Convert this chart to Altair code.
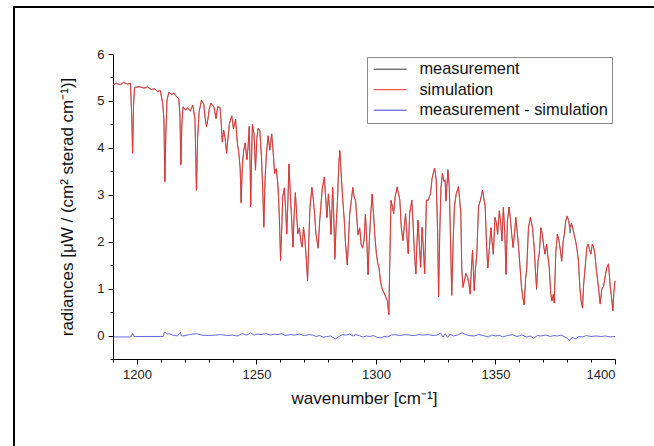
import altair as alt
import pandas as pd

# ---- spectrum vertices (wavenumber, radiance) ----
wn = [1190.0, 1191.5, 1193.0, 1194.5, 1196.0, 1197.3, 1197.9, 1198.2, 1198.6, 1199.0,
      1201.0, 1203.0, 1204.5, 1206.0, 1207.5, 1208.5, 1209.8, 1210.8, 1211.3, 1211.7,
      1212.1, 1212.6, 1213.4, 1214.5, 1215.5, 1216.5, 1217.5, 1218.0, 1218.4, 1218.8,
      1219.3, 1220.3, 1221.3, 1222.3, 1223.4, 1224.3, 1224.9, 1225.4, 1226.0, 1227.0,
      1228.0, 1228.5, 1229.1, 1229.7, 1230.2, 1231.0, 1232.2, 1233.1, 1233.8, 1234.8,
      1235.3, 1235.7, 1236.3, 1236.9, 1237.5, 1238.1, 1238.7, 1239.7, 1240.4, 1241.3,
      1242.0, 1242.6, 1243.2, 1243.6, 1244.1, 1244.7, 1245.3, 1246.0, 1246.5, 1247.0,
      1247.4, 1247.6, 1247.9, 1248.3, 1249.0, 1249.6, 1250.2, 1250.7, 1251.4, 1252.1,
      1252.7, 1253.1, 1253.6, 1254.2, 1254.9, 1255.6, 1256.4, 1257.0, 1257.6, 1258.3,
      1259.0, 1259.6, 1260.1, 1260.6, 1261.0, 1261.7, 1262.2, 1262.7, 1263.2, 1263.6,
      1264.2, 1264.8, 1265.3, 1265.8, 1266.3, 1266.8, 1267.3, 1268.0, 1268.6, 1269.1,
      1269.7, 1270.3, 1270.9, 1271.4, 1271.9, 1272.4, 1273.2, 1273.8, 1274.3, 1274.9,
      1275.8, 1276.4, 1277.0, 1277.6, 1278.4, 1279.0, 1279.5, 1280.1, 1280.8, 1281.2,
      1281.9, 1282.4, 1282.8, 1283.3, 1283.9, 1284.5, 1284.9, 1285.4, 1286.1, 1286.7,
      1287.2, 1287.7, 1288.0, 1288.5, 1289.0, 1289.7, 1290.3, 1290.9, 1291.5, 1292.0,
      1292.5, 1293.2, 1293.8, 1294.4, 1295.0, 1295.6, 1296.2, 1296.7, 1297.2, 1297.8,
      1298.4, 1299.0, 1299.5, 1300.2, 1300.8, 1301.3, 1301.9, 1302.5, 1303.1, 1303.7,
      1304.3, 1304.8, 1305.4, 1305.8, 1306.3, 1306.9, 1307.4, 1308.0, 1308.9, 1309.5,
      1310.0, 1310.6, 1311.3, 1312.0, 1312.4, 1313.0, 1313.5, 1314.1, 1315.0, 1315.6,
      1316.1, 1316.7, 1317.2, 1317.6, 1318.2, 1318.7, 1319.3, 1319.9, 1320.4, 1321.1,
      1321.9, 1322.8, 1323.5, 1324.2, 1324.6, 1325.2, 1325.8, 1326.2, 1326.7, 1327.2,
      1327.8, 1328.4, 1328.9, 1329.3, 1330.1, 1330.7, 1331.2, 1331.7, 1332.3, 1332.8,
      1333.6, 1334.5, 1335.0, 1335.5, 1335.9, 1336.4, 1337.0, 1337.6, 1338.3, 1338.9,
      1339.4, 1339.9, 1340.4, 1340.9, 1341.1, 1341.6, 1342.2, 1342.9, 1343.7, 1344.6,
      1345.2, 1345.7, 1346.3, 1346.8, 1347.5, 1348.1, 1348.6, 1349.1, 1349.8, 1350.4,
      1350.9, 1351.6, 1352.2, 1352.7, 1353.3, 1353.9, 1354.4, 1355.0, 1355.7, 1356.2,
      1356.8, 1357.4, 1358.0, 1358.5, 1359.2, 1359.8, 1360.3, 1360.9, 1361.5, 1362.0,
      1362.6, 1363.1, 1363.8, 1364.6, 1365.5, 1366.2, 1366.7, 1367.2, 1367.8, 1368.3,
      1369.0, 1369.6, 1370.2, 1370.7, 1371.4, 1371.9, 1372.5, 1373.1, 1373.6, 1374.2,
      1374.6, 1375.2, 1375.9, 1376.6, 1377.2, 1377.7, 1378.3, 1378.8, 1379.4, 1380.0,
      1380.6, 1381.2, 1381.8, 1382.3, 1382.9, 1383.5, 1384.1, 1384.7, 1385.3, 1385.8,
      1386.4, 1386.9, 1387.5, 1388.2, 1388.8, 1389.3, 1389.9, 1390.5, 1391.0, 1391.6,
      1392.2, 1392.8, 1393.8, 1394.5, 1395.2, 1396.0, 1396.6, 1397.3, 1398.0, 1398.6,
      1399.1, 1399.5, 1400.0]

simulation = [5.34, 5.37, 5.35, 5.39, 5.36, 5.37, 4.60, 3.88, 4.90, 5.28,
              5.30, 5.27, 5.29, 5.24, 5.26, 5.20, 5.22, 4.95, 4.60, 3.27,
              4.30, 5.02, 5.18, 5.14, 5.17, 5.09, 5.05, 4.70, 3.63, 4.50,
              4.88, 4.80, 4.86, 4.78, 4.91, 4.62, 3.09, 4.20, 4.75, 5.02,
              4.92, 4.65, 4.45, 4.60, 4.82, 4.95, 4.88, 4.62, 4.88, 4.86,
              4.50, 4.12, 4.38, 4.20, 3.88, 4.20, 4.52, 4.68, 4.40, 4.60,
              4.10, 3.90, 3.55, 2.82, 3.60, 3.95, 4.10, 3.74, 4.00, 4.45,
              3.50, 2.74, 3.60, 4.49, 4.30, 3.52, 4.20, 4.41, 4.38, 3.80,
              3.00, 2.30, 3.30, 3.90, 4.25, 3.95, 4.30, 3.90, 3.45, 3.55,
              3.20, 2.50, 1.59, 2.30, 2.95, 3.15, 2.70, 2.16, 2.90, 3.66,
              3.00, 2.40, 1.88, 2.60, 3.05, 2.60, 2.16, 2.30, 2.00, 1.88,
              2.30, 2.02, 1.60, 1.16, 2.00, 2.74, 3.16, 2.90, 2.60, 2.16,
              1.88, 2.40, 2.80, 3.16, 3.38, 2.90, 2.52, 3.02, 2.60, 2.16,
              3.16, 2.50, 1.66, 2.30, 2.88, 3.70, 3.95, 3.50, 2.90, 2.50,
              2.02, 1.70, 1.52, 2.00, 2.59, 2.88, 3.16, 2.95, 2.88, 2.50,
              2.16, 2.30, 1.95, 1.88, 2.02, 2.59, 2.00, 1.31, 2.00, 2.59,
              3.02, 2.60, 2.16, 1.74, 1.55, 1.45, 1.16, 1.02, 0.95, 0.88,
              0.80, 0.74, 0.45, 1.60, 2.88, 2.74, 2.60, 2.95, 3.16, 3.00,
              2.88, 2.30, 2.02, 2.40, 2.59, 2.10, 1.74, 2.59, 2.88, 2.30,
              1.74, 1.31, 2.00, 2.45, 1.90, 1.45, 2.30, 1.80, 1.31, 2.88,
              2.88, 3.02, 3.35, 3.50, 3.56, 3.31, 2.20, 0.82, 2.20, 3.16,
              3.45, 3.30, 3.31, 2.88, 3.52, 3.16, 2.00, 0.85, 2.00, 2.74,
              3.02, 3.16, 2.90, 2.59, 1.40, 1.02, 1.16, 1.31, 1.24, 1.10,
              0.88, 1.40, 1.81, 1.20, 0.95, 1.40, 1.74, 2.74, 2.88, 3.09,
              2.90, 2.74, 1.88, 1.45, 1.90, 2.30, 2.00, 1.74, 2.52, 2.40,
              2.16, 2.66, 2.40, 2.02, 2.74, 2.20, 1.31, 2.45, 2.74, 2.50,
              2.16, 1.88, 2.20, 2.52, 2.16, 1.80, 1.45, 1.02, 0.80, 0.66,
              1.20, 1.45, 2.30, 2.52, 2.30, 1.88, 1.40, 1.02, 1.60, 1.74,
              2.30, 2.16, 1.90, 1.74, 1.95, 1.70, 1.45, 0.90, 0.74, 0.88,
              0.70, 1.74, 2.16, 2.02, 1.80, 1.59, 2.00, 2.16, 2.45, 2.55,
              2.45, 2.30, 2.40, 2.30, 2.16, 2.02, 1.85, 1.59, 1.02, 0.75,
              0.59, 1.10, 1.45, 1.88, 1.95, 1.85, 1.74, 1.95, 1.90, 1.74,
              1.40, 1.16, 0.68, 1.00, 1.05, 1.30, 1.46, 1.53, 1.05, 0.80,
              0.53, 0.90, 1.17]

measurement = [5.35, 5.38, 5.34, 5.40, 5.36, 5.38, 4.55, 3.90, 4.92, 5.29,
               5.31, 5.28, 5.30, 5.25, 5.25, 5.21, 5.22, 4.93, 4.62, 3.30,
               4.28, 5.03, 5.19, 5.13, 5.16, 5.10, 5.04, 4.72, 3.66, 4.48,
               4.87, 4.81, 4.85, 4.79, 4.90, 4.60, 3.12, 4.22, 4.76, 5.01,
               4.93, 4.66, 4.47, 4.61, 4.81, 4.96, 4.87, 4.63, 4.87, 4.85,
               4.52, 4.14, 4.37, 4.22, 3.90, 4.22, 4.51, 4.69, 4.41, 4.61,
               4.12, 3.92, 3.56, 2.85, 3.62, 3.96, 4.11, 3.76, 4.02, 4.46,
               3.52, 2.78, 3.62, 4.50, 4.31, 3.55, 4.22, 4.42, 4.37, 3.82,
               3.02, 2.33, 3.32, 3.91, 4.26, 3.96, 4.29, 3.92, 3.46, 3.56,
               3.21, 2.52, 1.62, 2.31, 2.96, 3.14, 2.71, 2.18, 2.91, 3.65,
               3.01, 2.41, 1.90, 2.61, 3.04, 2.61, 2.18, 2.29, 2.01, 1.90,
               2.31, 2.03, 1.62, 1.18, 2.01, 2.73, 3.15, 2.91, 2.61, 2.18,
               1.86, 2.39, 2.79, 3.15, 3.37, 2.91, 2.51, 3.01, 2.59, 2.15,
               3.14, 2.48, 1.62, 2.28, 2.86, 3.68, 3.93, 3.49, 2.89, 2.49,
               2.01, 1.69, 1.50, 1.99, 2.58, 2.87, 3.15, 2.94, 2.86, 2.49,
               2.14, 2.28, 1.93, 1.86, 2.00, 2.57, 1.98, 1.29, 1.98, 2.57,
               3.00, 2.58, 2.14, 1.72, 1.52, 1.42, 1.13, 1.00, 0.93, 0.86,
               0.79, 0.73, 0.44, 1.60, 2.88, 2.75, 2.60, 2.96, 3.17, 3.01,
               2.89, 2.31, 2.03, 2.41, 2.60, 2.11, 1.75, 2.60, 2.89, 2.31,
               1.75, 1.32, 2.01, 2.46, 1.91, 1.46, 2.31, 1.81, 1.32, 2.89,
               2.89, 3.03, 3.36, 3.51, 3.57, 3.32, 2.22, 0.86, 2.18, 3.15,
               3.46, 3.28, 3.32, 2.86, 3.54, 3.15, 2.02, 0.88, 1.98, 2.73,
               3.03, 3.18, 2.91, 2.61, 1.43, 1.05, 1.18, 1.33, 1.25, 1.12,
               0.90, 1.41, 1.82, 1.22, 0.97, 1.41, 1.75, 2.75, 2.89, 3.10,
               2.91, 2.74, 1.87, 1.44, 1.89, 2.29, 1.99, 1.73, 2.51, 2.39,
               2.15, 2.65, 2.39, 2.01, 2.73, 2.19, 1.30, 2.44, 2.73, 2.49,
               2.15, 1.87, 2.19, 2.51, 2.15, 1.79, 1.44, 1.01, 0.79, 0.65,
               1.19, 1.44, 2.29, 2.51, 2.29, 1.86, 1.38, 0.98, 1.58, 1.73,
               2.29, 2.15, 1.89, 1.73, 1.94, 1.69, 1.44, 0.89, 0.73, 0.87,
               0.69, 1.73, 2.15, 2.01, 1.79, 1.58, 1.99, 2.15, 2.44, 2.54,
               2.44, 2.18, 2.38, 2.29, 2.15, 2.01, 1.84, 1.58, 1.01, 0.74,
               0.58, 1.09, 1.44, 1.87, 1.94, 1.84, 1.73, 1.94, 1.89, 1.73,
               1.39, 1.15, 0.67, 0.99, 1.04, 1.29, 1.45, 1.52, 1.04, 0.79,
               0.52, 0.89, 1.16]

diff_wn = [1190, 1197.5, 1198.2, 1198.8, 1205, 1211, 1211.6, 1212.5, 1213.5, 1215,
           1217, 1218.2, 1218.6, 1219.3, 1222, 1225, 1227, 1230, 1233, 1235,
           1238, 1240, 1242, 1244, 1246, 1247.6, 1249, 1250.5, 1252, 1254,
           1256, 1257.5, 1259, 1260.5, 1262, 1264, 1266, 1268, 1270, 1272,
           1273.5, 1275, 1276.5, 1278, 1279.5, 1281, 1282, 1283, 1284.5, 1286,
           1287.5, 1289, 1290.5, 1291.5, 1293, 1294.5, 1296, 1297.5, 1299, 1300.5,
           1302, 1303.5, 1305, 1306.5, 1308, 1310, 1312, 1314, 1316, 1318,
           1320, 1322, 1324, 1325.5, 1327, 1328, 1329, 1330, 1331, 1332.5,
           1334, 1336, 1337.5, 1339, 1341, 1343, 1345, 1347, 1348.5, 1350,
           1351.5, 1353, 1355, 1357, 1359, 1361, 1363, 1364.5, 1366, 1367.5,
           1369, 1371, 1373, 1374.5, 1376, 1377.5, 1379, 1380.2, 1381, 1382,
           1383.5, 1385, 1386.5, 1388, 1390, 1392, 1394, 1396, 1398, 1400]
diff_val = [-0.03, -0.03, 0.05, -0.02, -0.02, -0.02, 0.08, 0.03, 0.04, 0.01,
            -0.01, 0.07, 0.00, -0.01, 0.02, 0.04, 0.01, 0.00, 0.01, 0.02,
            0.00, 0.01, -0.01, 0.04, 0.01, 0.06, 0.01, 0.03, 0.02, 0.04,
            0.01, 0.03, 0.02, 0.04, 0.00, 0.02, 0.01, 0.03, 0.00, 0.02,
            0.01, -0.02, 0.00, -0.04, -0.02, -0.01, -0.04, -0.07, -0.02, 0.02,
            0.01, 0.03, -0.01, 0.02, 0.00, -0.03, -0.01, -0.02, 0.00, -0.04,
            -0.05, -0.02, -0.03, 0.01, 0.02, 0.00, 0.02, 0.01, 0.00, 0.02,
            0.01, 0.02, 0.00, 0.01, 0.05, -0.03, 0.04, -0.04, 0.03, -0.01,
            0.01, 0.06, 0.02, 0.00, -0.01, 0.02, 0.00, -0.03, 0.01, -0.01,
            0.01, -0.03, 0.00, 0.02, -0.02, 0.01, -0.03, -0.01, -0.06, 0.00,
            -0.01, 0.01, -0.02, 0.00, -0.01, 0.01, -0.03, -0.06, -0.11, -0.04,
            -0.07, -0.02, -0.03, 0.00, -0.02, -0.01, -0.02, -0.01, -0.03, -0.02]

series_names = ["measurement", "simulation", "measurement - simulation"]
series_colors = ["#333333", "#ee3030", "#4040d8"]

df_meas = pd.DataFrame({"wn": wn, "val": measurement, "series": series_names[0]})
df_sim = pd.DataFrame({"wn": wn, "val": simulation, "series": series_names[1]})
df_diff = pd.DataFrame({"wn": diff_wn, "val": diff_val, "series": series_names[2]})

FONT = "Liberation Sans"

x_enc = alt.X(
    "wn:Q",
    scale=alt.Scale(domain=[1190, 1400], nice=False, zero=False),
    axis=alt.Axis(
        values=list(range(1190, 1401, 10)),
        labelExpr="datum.value % 50 == 0 ? datum.label : ''",
        labelOverlap=False,
        format="d",
        tickSize={"condition": {"test": "datum.value % 50 == 0", "value": 5}, "value": 3},
        grid=False,
        domainColor="#000000",
        tickColor="#000000",
        labelColor="#222222",
        labelFont=FONT,
        labelFontSize=13,
        labelPadding=4,
        title="wavenumber [cm⁻¹]",
        titleFont=FONT,
        titleFontSize=17,
        titleFontWeight="normal",
        titleColor="#111111",
        titlePadding=9,
    ),
)
y_enc = alt.Y(
    "val:Q",
    scale=alt.Scale(domain=[-0.5, 6], nice=False, zero=False),
    axis=alt.Axis(
        values=[-0.5, 0, 0.5, 1, 1.5, 2, 2.5, 3, 3.5, 4, 4.5, 5, 5.5, 6],
        labelExpr="datum.value % 1 == 0 ? datum.label : ''",
        labelOverlap=False,
        format="~g",
        tickSize={"condition": {"test": "datum.value % 1 == 0", "value": 5}, "value": 3},
        grid=False,
        domainColor="#000000",
        tickColor="#000000",
        labelColor="#222222",
        labelFont=FONT,
        labelFontSize=13,
        labelPadding=4,
        title="radiances [μW / (cm² sterad cm⁻¹)]",
        titleFont=FONT,
        titleFontSize=17,
        titleFontWeight="normal",
        titleColor="#111111",
        titlePadding=20,
    ),
)
color_enc = alt.Color(
    "series:N",
    scale=alt.Scale(domain=series_names, range=series_colors),
    sort=series_names,
    legend=alt.Legend(
        orient="none",
        legendX=254,
        legendY=3,
        title=None,
        symbolType="M-1,0H5",
        symbolSize=121,
        symbolStrokeWidth=1,
        labelFont=FONT,
        labelFontSize=16.4,
        labelColor="#111111",
        labelLimit=400,
        labelOffset=32,
        rowPadding=3.5,
        padding=4,
        strokeColor="#8a8a8a",
        fillColor="#ffffff",
    ),
)

meas_line = alt.Chart(df_meas).mark_line(strokeWidth=0.6).encode(x=x_enc, y=y_enc, color=color_enc)
diff_line = alt.Chart(df_diff).mark_line(strokeWidth=0.8).encode(x=x_enc, y=y_enc, color=color_enc)
sim_line = alt.Chart(df_sim).mark_line(strokeWidth=0.9).encode(x=x_enc, y=y_enc, color=color_enc)

frame_src = pd.DataFrame({"k": [0]})
frame_left = alt.Chart(frame_src).mark_rule(color="#000000", strokeWidth=2).encode(
    x=alt.value(-99), y=alt.value(-47), y2=alt.value(400)
)
frame_top = alt.Chart(frame_src).mark_rule(color="#000000", strokeWidth=2).encode(
    x=alt.value(-100), x2=alt.value(545), y=alt.value(-47)
)

chart = (
    alt.layer(frame_left, frame_top, meas_line, diff_line, sim_line)
    .properties(
        width=502,
        height=305,
        autosize=alt.AutoSizeParams(type="none"),
        padding={"left": 113, "top": 54, "right": 39, "bottom": 87},
        background="#ffffff",
    )
    .configure_view(stroke=None)
)

chart.save("out.html", embed_options={"renderer": "svg", "actions": False})
